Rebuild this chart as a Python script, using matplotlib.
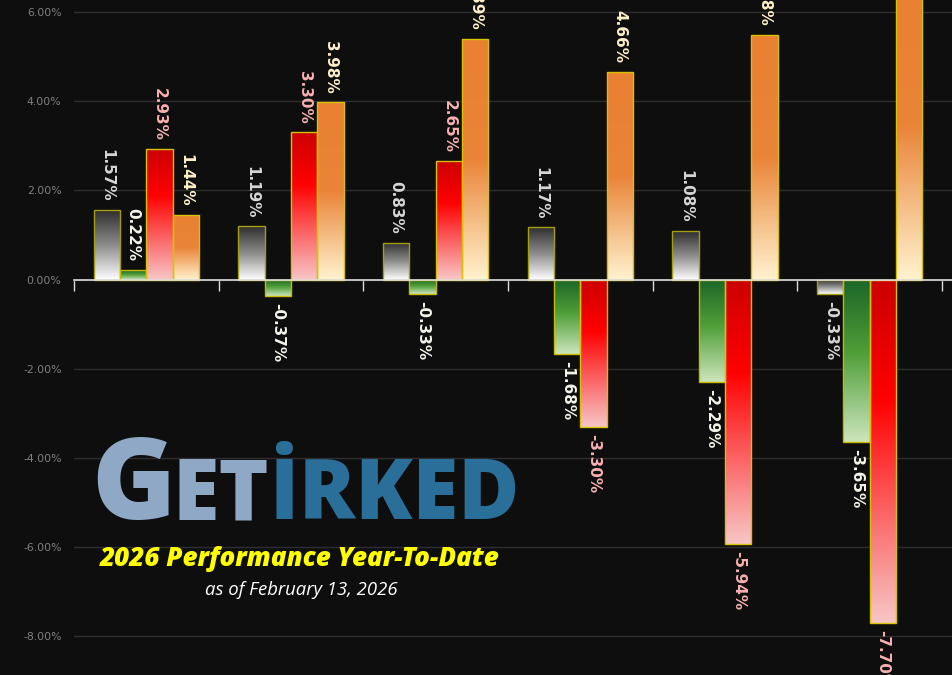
import numpy as np
import matplotlib.pyplot as plt
from matplotlib.colors import LinearSegmentedColormap
from matplotlib.ticker import FuncFormatter

# data (percent, year-to-date)
groups = ["1", "2", "3", "4", "5", "6"]
gray_vals = [1.57, 1.19, 0.83, 1.17, 1.08, -0.33]
green_vals = [0.22, -0.37, -0.33, -1.68, -2.29, -3.65]
red_vals = [2.93, 3.30, 2.65, -3.30, -5.94, -7.70]
orange_vals = [1.44, 3.98, 5.39, 4.66, 5.48, 6.90]

bg = "#0e0e0e"

series = [
    (gray_vals, [(0, "#2e2e2e"), (0.5, "#8c8c8c"), (1, "#ffffff")], "#a39e10", "#d6d6d6"),
    (green_vals, [(0, "#1a6628"), (0.45, "#4f9e38"), (1, "#cde6bd")], "#c9b800", "#f4f4ea"),
    (red_vals, [(0, "#cc0000"), (0.35, "#ff0000"), (1, "#f8c6c6")], "#d8c200", "#f8b0b0"),
    (orange_vals, [(0, "#e98032"), (0.5, "#ea8438"), (1, "#fff3cf")], "#d8c200", "#fdf0c8"),
]

fig = plt.figure(figsize=(9.53, 6.75), dpi=100, facecolor=bg)
ax = fig.add_axes([74 / 953, 0, 1 - 74 / 953, 1])
ax.set_facecolor(bg)

x = np.arange(len(groups))
w = 0.182
grad = np.linspace(0, 1, 256).reshape(-1, 1)

for i, (vals, cols, edge, lab_col) in enumerate(series):
    cmap = LinearSegmentedColormap.from_list("c%d" % i, cols)
    bars = ax.bar(x + (i - 1.5) * w, vals, width=w, color="none",
                  edgecolor=edge, linewidth=1, zorder=3)
    for b, v in zip(bars, vals):
        x0 = b.get_x()
        y0, y1 = min(0, v), max(0, v)
        im = ax.imshow(grad, cmap=cmap, aspect="auto", origin="upper",
                       extent=[x0, x0 + w, y0, y1], zorder=2)
        im.set_clip_path(b)
        if v >= 0:
            ax.annotate("%.2f%%" % v, (b.get_x() + w / 2, v), xytext=(0, 6),
                        textcoords="offset points", rotation=-90, ha="center",
                        va="bottom", color=lab_col, fontsize=11,
                        fontweight="bold", zorder=4)
        else:
            ax.annotate("%.2f%%" % v, (b.get_x() + w / 2, v), xytext=(0, -5),
                        textcoords="offset points", rotation=-90, ha="center",
                        va="top", color=lab_col, fontsize=11,
                        fontweight="bold", zorder=4)

ax.set_xlim(-0.5, 5.575)
ax.set_ylim(-8.87, 6.27)

ax.set_yticks([-8, -6, -4, -2, 0, 2, 4, 6])
ax.yaxis.set_major_formatter(FuncFormatter(lambda v, p: "%.2f%%" % v))
ax.tick_params(axis="y", length=0, pad=9, labelsize=7.8, labelcolor="#808080")
ax.yaxis.grid(True, color="#2e2e2e", linewidth=1)
ax.set_axisbelow(True)

ax.set_xticks(np.arange(-0.5, 6, 1))
ax.set_xticklabels([])
ax.tick_params(axis="x", direction="out", length=8, width=1, color="#dddddd")

for s in ["top", "right", "left"]:
    ax.spines[s].set_visible(False)
ax.spines["bottom"].set_position(("data", 0))
ax.spines["bottom"].set_color("#dddddd")
ax.spines["bottom"].set_linewidth(1.2)
ax.spines["bottom"].set_zorder(3.5)

# logo
renderer = fig.canvas.get_renderer()
t1 = fig.text(91 / 953, 1 - 519 / 675, "G", fontsize=82, family="Open Sans",
              fontweight="heavy", color="#8fa8c6", va="baseline")
bb = t1.get_window_extent(renderer)
t2 = fig.text((bb.x1 - 3) / 953, 1 - 519 / 675, "ET", fontsize=61,
              family="Open Sans", fontweight="heavy", color="#8fa8c6", va="baseline")
bb = t2.get_window_extent(renderer)
fig.text((bb.x1 + 1) / 953, 1 - 519 / 675, "\u0130RKED", fontsize=60,
         family="Open Sans", fontweight="heavy", color="#2a6f9a", va="baseline")

fig.text(300 / 953, 1 - 559 / 675, "2026 Performance Year-To-Date", fontsize=18.7,
         family="Open Sans", fontweight="heavy", style="italic", color="#ffff00",
         ha="center", va="center")
fig.text(301 / 953, 1 - 590 / 675, "as of February 13, 2026", fontsize=13.3,
         family="Open Sans", style="italic", color="#ffffff",
         ha="center", va="center")

fig.savefig("out.png", dpi=100, facecolor=bg)
